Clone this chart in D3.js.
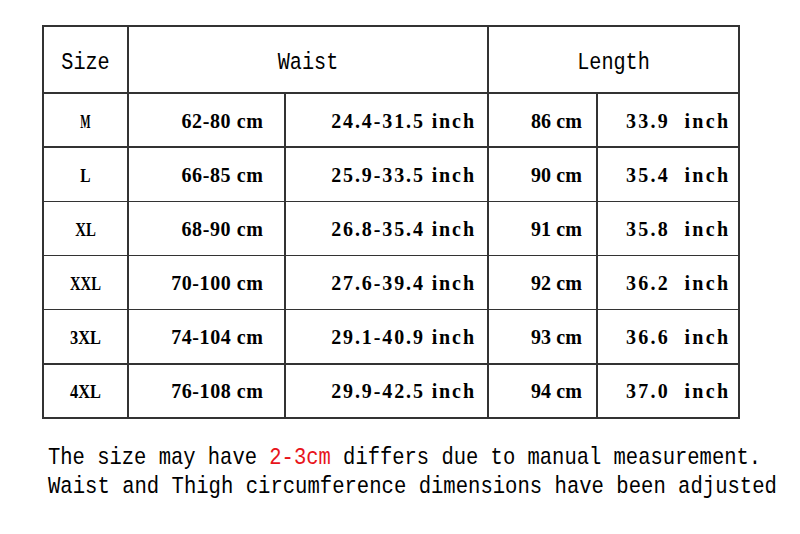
<!DOCTYPE html>
<html>
<head>
<meta charset="utf-8">
<script src="https://cdn.jsdelivr.net/npm/d3@7"></script>
<style>
  body { margin: 0; background: #fff; }
</style>
</head>
<body>
<script>
// size chart values
const sizes = ["M", "L", "XL", "XXL", "3XL", "4XL"];
const waistCm = [[62, 80], [66, 85], [68, 90], [70, 100], [74, 104], [76, 108]];
const waistInch = [[24.4, 31.5], [25.9, 33.5], [26.8, 35.4], [27.6, 39.4], [29.1, 40.9], [29.9, 42.5]];
const lengthCm = [86, 90, 91, 92, 93, 94];
const lengthInch = [33.9, 35.4, 35.8, 36.2, 36.6, 37.0];
const headers = ["Size", "Waist", "Length"];
const notes = ["The size may have ", "2-3cm", " differs due to manual measurement."];
const note2 = "Waist and Thigh circumference dimensions have been adjusted";

const w = 800, h = 534;
const colEdges = [43, 128, 285, 488, 597, 739];
const tableTop = 26, headBottom = 93, tableBottom = 418;
const pads = [0, 22, 14, 15, 11];

// the original is set in a half-width monospace font, so the table cells
// get a fixed advance per character
const fit = function(sel, charW, adjust) {
  sel.attr("textLength", function() { return this.textContent.length * charW; })
     .attr("lengthAdjust", adjust);
};

const svg = d3.select("body").append("svg").attr("width", w).attr("height", h);

const y = d3.scaleBand()
  .domain(d3.range(sizes.length))
  .range([headBottom, tableBottom]);

const lines = svg.append("g")
  .attr("stroke", "#333")
  .attr("stroke-width", 1.4)
  .attr("shape-rendering", "crispEdges");

// outer box + horizontal rules
lines.append("rect")
  .attr("x", colEdges[0]).attr("y", tableTop)
  .attr("width", colEdges[5] - colEdges[0]).attr("height", tableBottom - tableTop)
  .attr("fill", "none");

d3.range(sizes.length).forEach((i) => {
  lines.append("line")
    .attr("x1", colEdges[0]).attr("x2", colEdges[5])
    .attr("y1", y(i)).attr("y2", y(i));
});

// vertical rules: full ones and the split ones below the header
[1, 3].forEach((c) => {
  lines.append("line").attr("x1", colEdges[c]).attr("x2", colEdges[c]).attr("y1", tableTop).attr("y2", tableBottom);
});
[2, 4].forEach((c) => {
  lines.append("line").attr("x1", colEdges[c]).attr("x2", colEdges[c]).attr("y1", headBottom).attr("y2", tableBottom);
});

// header labels (mono glyphs stretched a bit taller)
const headSpans = [[0, 1], [1, 3], [3, 5]];
svg.append("g").selectAll("text")
  .data(headers)
  .enter().append("text")
  .attr("transform", (d, i) => "translate(" + (colEdges[headSpans[i][0]] + colEdges[headSpans[i][1]]) / 2 + ",69) scale(1,1.18)")
  .attr("text-anchor", "middle")
  .attr("font-family", "'Liberation Mono', monospace")
  .attr("font-size", "20.2px")
  .attr("fill", "#000")
  .text((d) => d);

// body rows
const rows = sizes.map((s, i) => [
  s,
  waistCm[i][0] + "-" + waistCm[i][1] + " cm",
  waistInch[i][0].toFixed(1) + "-" + waistInch[i][1].toFixed(1) + " inch",
  lengthCm[i] + " cm",
  lengthInch[i].toFixed(1) + "\u00a0 inch"
]);

const body = svg.append("g")
  .attr("font-family", "'Liberation Serif', serif")
  .attr("font-weight", "bold")
  .attr("fill", "#000");

rows.forEach((row, i) => {
  const t = body.selectAll(null)
    .data(row)
    .enter().append("text")
    .attr("x", (d, c) => c === 0 ? (colEdges[0] + colEdges[1]) / 2 : colEdges[c + 1] - pads[c])
    .attr("y", y(i) + y.bandwidth() / 2 + 7.5)
    .attr("text-anchor", (d, c) => c === 0 ? "middle" : "end")
    .attr("font-size", (d, c) => c === 0 ? "19px" : "20px")
    .text((d) => d);
  t.filter((d, c) => c === 0).call(fit, 10.3, "spacingAndGlyphs");
  t.filter((d, c) => c > 0).call(fit, 10.2, "spacing");
});

// footnote
const foot = svg.append("g")
  .attr("font-family", "'Liberation Mono', monospace")
  .attr("font-size", "20.5px")
  .attr("fill", "#000");

foot.append("text")
  .attr("transform", "translate(48,464) scale(1,1.17)")
  .style("white-space", "pre")
  .selectAll("tspan")
  .data(notes)
  .enter().append("tspan")
  .attr("fill", (d, i) => i === 1 ? "#e8141b" : "#000")
  .text((d) => d);

foot.append("text")
  .attr("transform", "translate(48,493) scale(1,1.17)")
  .attr("font-size", "20.6px")
  .text(note2);
</script>
</body>
</html>
